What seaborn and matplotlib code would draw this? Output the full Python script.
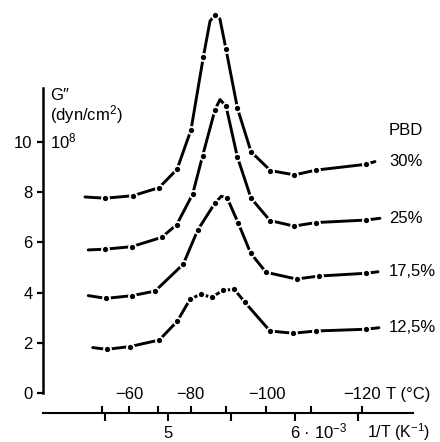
import numpy as np
import pandas as pd
import matplotlib
matplotlib.use("Agg")
import matplotlib.pyplot as plt
import seaborn as sns

# G'' in 10^8 dyn/cm^2 against 1/T in 10^-3 K^-1.
# each trace includes the short line ends; dot_* flags the points with a dot
inv_T_30 = [4.346, 4.504, 4.724, 4.929, 5.071, 5.181, 5.278, 5.331, 5.370,
            5.409, 5.457, 5.547, 5.654, 5.807, 5.996, 6.165, 6.557, 6.630]
G_30 = [7.81, 7.76, 7.86, 8.18, 8.91, 10.48, 13.38, 14.82, 15.06,
        14.90, 13.69, 11.34, 9.61, 8.86, 8.69, 8.88, 9.11, 9.22]
dot_30 = [0, 1, 1, 1, 1, 1, 1, 0, 1, 0, 1, 1, 1, 1, 1, 1, 1, 0]

inv_T_25 = [4.372, 4.504, 4.714, 4.950, 5.069, 5.194, 5.273, 5.370, 5.409,
            5.457, 5.546, 5.654, 5.803, 5.992, 6.165, 6.559, 6.669]
G_25 = [5.70, 5.73, 5.83, 6.20, 6.71, 7.92, 9.46, 11.28, 11.69,
        11.43, 9.41, 7.76, 6.87, 6.65, 6.79, 6.89, 6.96]
dot_25 = [0, 1, 1, 1, 1, 1, 1, 1, 0, 1, 1, 1, 1, 1, 1, 1, 0]

inv_T_175 = [4.372, 4.512, 4.719, 4.898, 5.120, 5.234, 5.370, 5.420,
             5.467, 5.554, 5.651, 5.772, 6.012, 6.189, 6.559, 6.654]
G_175 = [3.88, 3.77, 3.88, 4.06, 5.13, 6.49, 7.57, 7.84,
         7.76, 6.76, 5.57, 4.81, 4.54, 4.66, 4.77, 4.83]
dot_175 = [0, 1, 1, 1, 1, 1, 1, 0, 1, 1, 1, 1, 1, 1, 1, 0]

inv_T_125 = [4.407, 4.517, 4.701, 4.931, 5.073, 5.173, 5.257, 5.344,
             5.433, 5.522, 5.606, 5.803, 5.987, 6.163, 6.559, 6.661]
G_125 = [1.81, 1.74, 1.85, 2.11, 2.86, 3.73, 3.94, 3.81,
         4.09, 4.13, 3.61, 2.47, 2.38, 2.47, 2.54, 2.60]
dot_125 = [0, 1, 1, 1, 1, 1, 1, 1, 1, 1, 1, 1, 1, 1, 1, 0]

series_names = ["30%", "25%", "17,5%", "12,5%"]

y_ticks = [0, 2, 4, 6, 8, 10]
inv_T_major = [5, 6]
inv_T_minor = [4.5, 5.5, 6.5]
T_major = [-60, -80, -100, -120]
T_major_labels = ["\u221260", "\u221280", "\u2212100", "\u2212120"]
T_minor = [-50, -70, -90, -110]


def to_celsius(v):
    with np.errstate(divide="ignore", invalid="ignore"):
        return 1000.0 / np.asarray(v, dtype=float) - 273.15


def to_inv(t):
    with np.errstate(divide="ignore", invalid="ignore"):
        return 1000.0 / (np.asarray(t, dtype=float) + 273.15)


frames = []
for name, x, y, d in zip(series_names,
                         [inv_T_30, inv_T_25, inv_T_175, inv_T_125],
                         [G_30, G_25, G_175, G_125],
                         [dot_30, dot_25, dot_175, dot_125]):
    frames.append(pd.DataFrame({"series": name, "inv_T": x, "G": y, "dot": d}))
df = pd.concat(frames, ignore_index=True)

sns.set_style("ticks", {"axes.edgecolor": "black", "xtick.color": "black",
                        "ytick.color": "black", "text.color": "black"})
plt.rcParams["font.family"] = ["Liberation Sans", "DejaVu Sans"]
plt.rcParams["mathtext.fontset"] = "custom"
plt.rcParams["mathtext.rm"] = "Liberation Sans"
plt.rcParams["mathtext.it"] = "Liberation Sans:italic"
plt.rcParams["font.size"] = 12

fig = plt.figure(figsize=(4.4, 4.42), dpi=100)
ax = fig.add_axes([0, 0, 1, 1])
xlo, xhi = 3.677, 7.142
ylo, yhi = -1.952, 15.657
ax.set_xlim(xlo, xhi)
ax.set_ylim(ylo, yhi)

sns.lineplot(data=df, x="inv_T", y="G", units="series", estimator=None,
             sort=False, color="black", linewidth=2.1, ax=ax)
sns.scatterplot(data=df[df["dot"] == 1], x="inv_T", y="G", color="black",
                s=26, edgecolor="white", linewidth=1.3, zorder=3,
                legend=False, ax=ax)
ax.set(xlabel="", ylabel="")

# axes frame
left_x = 4.016
base_y = -0.797
for side in ["top", "right"]:
    ax.spines[side].set_visible(False)
ax.spines["left"].set_position(("data", left_x))
ax.spines["left"].set_bounds(0, 12.15)
ax.spines["left"].set_linewidth(1.8)
ax.spines["bottom"].set_position(("data", base_y))
ax.spines["bottom"].set_bounds(left_x, 6.929)
ax.spines["bottom"].set_linewidth(1.5)

ax.set_yticks(y_ticks, labels=[str(t) for t in y_ticks])
ax.set_yticks([10], minor=True)
ax.tick_params(axis="y", which="major", direction="out", length=4.5,
               width=1.6, pad=3, labelsize=12)
ax.tick_params(axis="y", which="minor", direction="in", length=3, width=1.6)

ax.set_xticks(inv_T_major, labels=["5", ""])
ax.set_xticks(inv_T_minor, minor=True)
ax.tick_params(axis="x", which="both", direction="out", length=5.5,
               width=1.5, pad=3.6, labelsize=12)

# temperature scale on the same base line, ticks pointing up
sec = ax.secondary_xaxis((base_y - ylo) / (yhi - ylo),
                         functions=(to_celsius, to_inv))
sec.set_xticks(T_major, labels=T_major_labels)
sec.set_xticks(T_minor, minor=True)
sec.xaxis.set_ticks_position("top")
for side in ["top", "bottom"]:
    sec.spines[side].set_visible(False)
sec.tick_params(axis="x", which="both", direction="out", length=5,
                width=1.5, pad=3.2, labelsize=12)

# axis texts
ax.text(4.071, 11.87, "G\u2033", ha="left", va="center", fontsize=12)
ax.text(4.071, 11.08, "(dyn/cm$^2$)", ha="left", va="center", fontsize=12)
ax.text(4.071, 9.76, "10$^8$", ha="left", va="baseline", fontsize=12)
ax.annotate("T (\u00b0C)", xy=(6.717, base_y), xytext=(0, 8.2),
            textcoords="offset points", ha="left", va="bottom", fontsize=12)
ax.annotate("6 \u00b7 10$^{-3}$", xy=(6, base_y), xytext=(-3.3, -18),
            textcoords="offset points", ha="left", va="baseline", fontsize=12)
ax.annotate("1/T (K$^{-1}$)", xy=(6.57, base_y), xytext=(0, -18),
            textcoords="offset points", ha="left", va="baseline",
            fontsize=11.5)

# series labels at the right end of each curve
label_x = 6.740
ax.text(label_x, 10.44, "PBD", ha="left", va="center", fontsize=12)
for name in series_names:
    last = df[df["series"] == name].iloc[-1]
    ax.text(label_x, last["G"], name, ha="left", va="center", fontsize=12)

fig.savefig("out.png", dpi=100)
plt.close(fig)
